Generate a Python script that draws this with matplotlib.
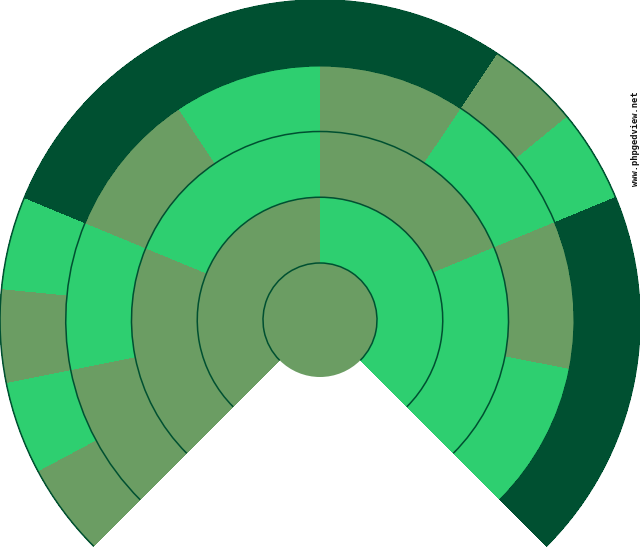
import matplotlib
matplotlib.use("Agg")
import matplotlib.pyplot as plt
from matplotlib.patches import Wedge, Circle, Arc

# generations of the fan (0 = root person in the centre)
generations = [0, 1, 2, 3, 4]
# which ancestors are known in each generation (1 = known, 0 = unknown)
known = {
    0: [1],
    1: [1, 1],
    2: [1, 1, 1, 1],
    3: [1, 1, 1, 1, 1, 1, 1, 1],
    4: [1, 1, 1, 1, 0, 0, 0, 0, 0, 0, 1, 1, 0, 0, 0, 0],
}
# sex of each slot: fathers on even slots, mothers on odd slots
sex_labels = ["M", "F"]

colors = {"M": "#6b9d63", "F": "#2ecf70", "unknown": "#005031"}
line_color = "#005031"

# layout
cx, cy = 320, 230
r_center = 57
ring_w = 65.75
start_deg, span_deg = 225, 270

fig = plt.figure(figsize=(6.4, 5.5), dpi=100)
ax = fig.add_axes([0, 0, 1, 1])
ax.set_xlim(0, 640)
ax.set_ylim(0, 550)
ax.set_aspect("equal")
ax.axis("off")

# centre person: full disc
ax.add_patch(Circle((cx, cy), r_center, facecolor=colors["M"], edgecolor="none"))

for g in generations[1:]:
    slots = known[g]
    n = len(slots)
    r_in = r_center + (g - 1) * ring_w
    r_out = r_in + ring_w
    step = span_deg / n
    for i, k in enumerate(slots):
        a2 = start_deg - i * step
        a1 = a2 - step
        col = colors[sex_labels[i % 2]] if k else colors["unknown"]
        ax.add_patch(Wedge((cx, cy), r_out, a1, a2, width=ring_w,
                           facecolor=col, edgecolor="none", antialiased=False))

# circular separators between generations
for g in generations:
    r = r_center + g * ring_w
    ax.add_patch(Arc((cx, cy), 2 * r, 2 * r, theta1=start_deg - span_deg,
                     theta2=start_deg, color=line_color, lw=1.1))

fig.text(635 / 640, 1 - 139 / 550, "www.phpgedview.net", rotation=90,
         fontsize=6.3, family="DejaVu Sans Mono", fontweight="bold",
         color="#111111", ha="center", va="center")

fig.savefig("out.png", dpi=100)
